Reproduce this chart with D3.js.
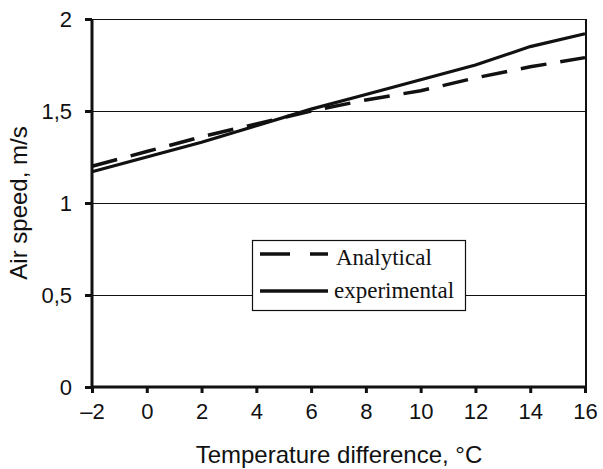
<html>
<head>
<script src="https://d3js.org/d3.v7.min.js"></script>
<style>
  body { margin: 0; background: #fff; }
  .tick text { font-family: "Liberation Sans", Arial, sans-serif; font-size: 22px; fill: #111; }
  .axis-title { font-family: "Liberation Sans", Arial, sans-serif; font-size: 24px; fill: #111; }
  .legend text { font-family: "Liberation Serif", "Times New Roman", serif; font-size: 23px; fill: #111; }
</style>
</head>
<body>
<script>
  // values
  var temps = [-2, 0, 2, 4, 6, 8, 10, 12, 14, 16];
  var experimental = [1.17, 1.25, 1.33, 1.42, 1.51, 1.59, 1.67, 1.75, 1.85, 1.92];
  var analytical = [1.20, 1.28, 1.36, 1.43, 1.50, 1.56, 1.61, 1.68, 1.74, 1.79];
  var xTicks = [-2, 0, 2, 4, 6, 8, 10, 12, 14, 16];
  var yTicks = [0, 0.5, 1, 1.5, 2];

  var width = 603, height = 469;
  var margin = {top: 19, right: 18, bottom: 82, left: 92};
  var innerW = width - margin.left - margin.right,
      innerH = height - margin.top - margin.bottom;

  var svg = d3.select("body").append("svg")
      .attr("width", width)
      .attr("height", height);

  var g = svg.append("g")
      .attr("transform", "translate(" + margin.left + "," + margin.top + ")");

  var x = d3.scaleLinear().domain([-2, 16]).range([0, innerW]);
  var y = d3.scaleLinear().domain([0, 2]).range([innerH, 0]);

  // horizontal grid lines
  g.selectAll(".grid")
      .data(yTicks.filter(function (d) { return d > 0; }))
      .enter().append("line")
      .attr("x1", 0).attr("x2", innerW)
      .attr("y1", function (d) { return Math.round(y(d)) + 0.5; })
      .attr("y2", function (d) { return Math.round(y(d)) + 0.5; })
      .attr("stroke", "#111").attr("stroke-width", 1)
      .attr("shape-rendering", "crispEdges");

  // right border
  g.append("line")
      .attr("x1", innerW + 0.5).attr("x2", innerW + 0.5)
      .attr("y1", 0).attr("y2", innerH)
      .attr("stroke", "#111").attr("stroke-width", 2)
      .attr("shape-rendering", "crispEdges");

  var fmtY = function (d) { return String(d).replace(".", ","); };
  var fmtX = function (d) { return d < 0 ? "\u2013" + Math.abs(d) : String(d); };

  var yAxis = g.append("g")
      .call(d3.axisLeft(y).tickValues(yTicks).tickFormat(fmtY).tickSize(7).tickPadding(13));
  var xAxis = g.append("g")
      .attr("transform", "translate(0," + innerH + ")")
      .call(d3.axisBottom(x).tickValues(xTicks).tickFormat(fmtX).tickSize(6).tickPadding(10));

  [yAxis, xAxis].forEach(function (a) {
      a.select(".domain").attr("stroke", "#111").attr("stroke-width", 3);
      a.selectAll(".tick line").attr("stroke", "#111").attr("stroke-width", 3);
  });
  yAxis.select(".domain").attr("d", "M0,0V" + innerH);
  xAxis.select(".domain").attr("d", "M0,0H" + innerW);

  var line = d3.line()
      .x(function (d, i) { return x(temps[i]); })
      .y(function (d) { return y(d); });

  g.append("path")
      .datum(analytical)
      .attr("d", line)
      .attr("fill", "none")
      .attr("stroke", "#111")
      .attr("stroke-width", 3.5)
      .attr("stroke-dasharray", "26,14");

  g.append("path")
      .datum(experimental)
      .attr("d", line)
      .attr("fill", "none")
      .attr("stroke", "#111")
      .attr("stroke-width", 3.2);

  // legend
  var legend = svg.append("g").attr("class", "legend")
      .attr("transform", "translate(252,240)");
  legend.append("rect")
      .attr("x", 0.5).attr("y", 0.5)
      .attr("width", 213).attr("height", 70)
      .attr("fill", "#fff").attr("stroke", "#111").attr("stroke-width", 1.2);
  legend.append("line")
      .attr("x1", 8).attr("x2", 76).attr("y1", 14).attr("y2", 14)
      .attr("stroke", "#111").attr("stroke-width", 3.5)
      .attr("stroke-dasharray", "30,20");
  legend.append("line")
      .attr("x1", 8).attr("x2", 76).attr("y1", 51).attr("y2", 51)
      .attr("stroke", "#111").attr("stroke-width", 3.5);
  legend.append("text").attr("x", 84).attr("y", 25).text("Analytical");
  legend.append("text").attr("x", 82).attr("y", 58).text("experimental");

  // axis titles
  svg.append("text").attr("class", "axis-title")
      .attr("text-anchor", "middle")
      .attr("x", 339)
      .attr("y", 463)
      .text("Temperature difference, \u00B0C");
  svg.append("text").attr("class", "axis-title")
      .attr("text-anchor", "middle")
      .attr("transform", "translate(27,203) rotate(-90)")
      .text("Air speed, m/s");
</script>
</body>
</html>
